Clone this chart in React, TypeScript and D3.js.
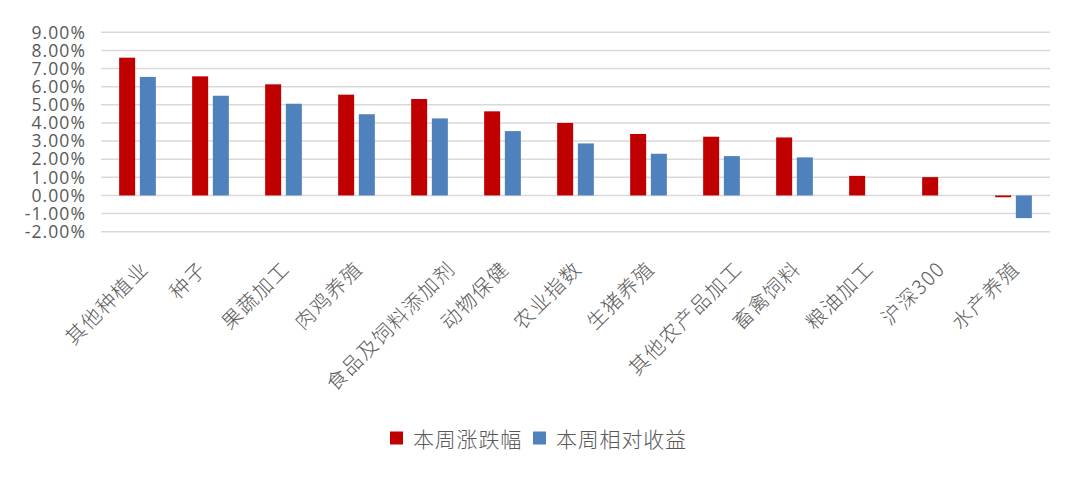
import React, { useEffect, useRef } from "react";
import * as d3 from "d3";

const categories = [
  "其他种植业", "种子", "果蔬加工", "肉鸡养殖", "食品及饲料添加剂", "动物保健",
  "农业指数", "生猪养殖", "其他农产品加工", "畜禽饲料", "粮油加工", "沪深300", "水产养殖",
];
const weeklyChange = [7.60, 6.57, 6.13, 5.56, 5.32, 4.64, 4.0, 3.39, 3.24, 3.20, 1.08, 1.01, -0.1];
const relativeReturn = [6.54, 5.50, 5.06, 4.48, 4.25, 3.55, 2.87, 2.30, 2.17, 2.10, 0, 0, -1.25];
const seriesNames = ["本周涨跌幅", "本周相对收益"];
const seriesColors = ["#c00000", "#4f81bd"];
const yTicks = [9, 8, 7, 6, 5, 4, 3, 2, 1, 0, -1, -2];

const W = 1080;
const H = 477;

export default function App() {
  const svgRef = useRef<SVGSVGElement>(null);

  useEffect(() => {
    if (!svgRef.current) return;
    const svg = d3.select(svgRef.current);
    svg.selectAll("*").remove();

    svg.append("rect").attr("width", W).attr("height", H).attr("fill", "#fff");

    const x = d3.scaleBand<string>().domain(categories).range([101, 1050]).padding(0);
    const y = d3.scaleLinear().domain([-2, 9]).range([231.7, 32.3]);

    // grid
    svg.append("g")
      .selectAll("line")
      .data(yTicks)
      .join("line")
      .attr("x1", 101).attr("x2", 1050)
      .attr("y1", d => y(d)).attr("y2", d => y(d))
      .attr("stroke", "#d9d9d9").attr("stroke-width", 1.4);

    // y labels
    svg.append("g")
      .selectAll("text")
      .data(yTicks)
      .join("text")
      .attr("x", 86)
      .attr("y", d => y(d))
      .attr("dy", "0.36em")
      .attr("text-anchor", "end")
      .attr("fill", "#595959")
      .style("font-family", "'Open Sans', Lato, sans-serif")
      .style("font-size", "17.5px")
      .style("letter-spacing", "1.1px")
      .text(d => `${d.toFixed(2)}%`);

    // bars
    const band = x.bandwidth();
    const inner = d3.scaleBand<number>().domain([0, 1])
      .range([band / 2 - 18.35, band / 2 + 18.35]).paddingInner(0.227);

    [weeklyChange, relativeReturn].forEach((vals, si) => {
      svg.append("g")
        .selectAll("rect")
        .data(vals)
        .join("rect")
        .attr("x", (_, i) => (x(categories[i]) ?? 0) + (inner(si) ?? 0))
        .attr("width", inner.bandwidth())
        .attr("y", d => y(Math.max(0, d)))
        .attr("height", d => Math.abs(y(d) - y(0)))
        .attr("fill", seriesColors[si]);
    });

    // category labels, rotated like the spreadsheet's
    const charUnits = (s: string) =>
      Array.from(s).reduce((a, c) => a + (/[\u4e00-\u9fff]/.test(c) ? 1 : 0.55), 0);
    svg.append("g")
      .selectAll("text")
      .data(categories)
      .join("text")
      .each(function (d) {
        const cx = (x(d) ?? 0) + band / 2;
        const mx = cx - 18 + 4.9 * charUnits(d);
        const my = 264;
        d3.select(this)
          .attr("x", mx).attr("y", my)
          .attr("transform", `rotate(-45,${mx},${my})`);
      })
      .attr("text-anchor", "end")
      .attr("dominant-baseline", "central")
      .attr("fill", "#595959")
      .style("font-family", "'Noto Sans CJK SC', sans-serif")
      .style("font-weight", 300)
      .style("font-size", "20px")
      .style("letter-spacing", "1.5px")
      .text(d => d);

    // legend
    const legendX = [390, 533];
    const lg = svg.append("g");
    seriesNames.forEach((name, i) => {
      lg.append("rect")
        .attr("x", legendX[i]).attr("y", 431.5)
        .attr("width", 13).attr("height", 13)
        .attr("fill", seriesColors[i]);
      lg.append("text")
        .attr("x", legendX[i] + 23).attr("y", 438)
        .attr("dominant-baseline", "central")
        .attr("fill", "#595959")
        .style("font-family", "'Noto Sans CJK SC', sans-serif")
        .style("font-weight", 300)
        .style("font-size", "21px")
        .style("letter-spacing", "0.8px")
        .text(name);
    });
  }, []);

  return (
    <svg
      ref={svgRef}
      width={W}
      height={H}
      style={{ position: "absolute", left: 0, top: 0, display: "block" }}
    />
  );
}
